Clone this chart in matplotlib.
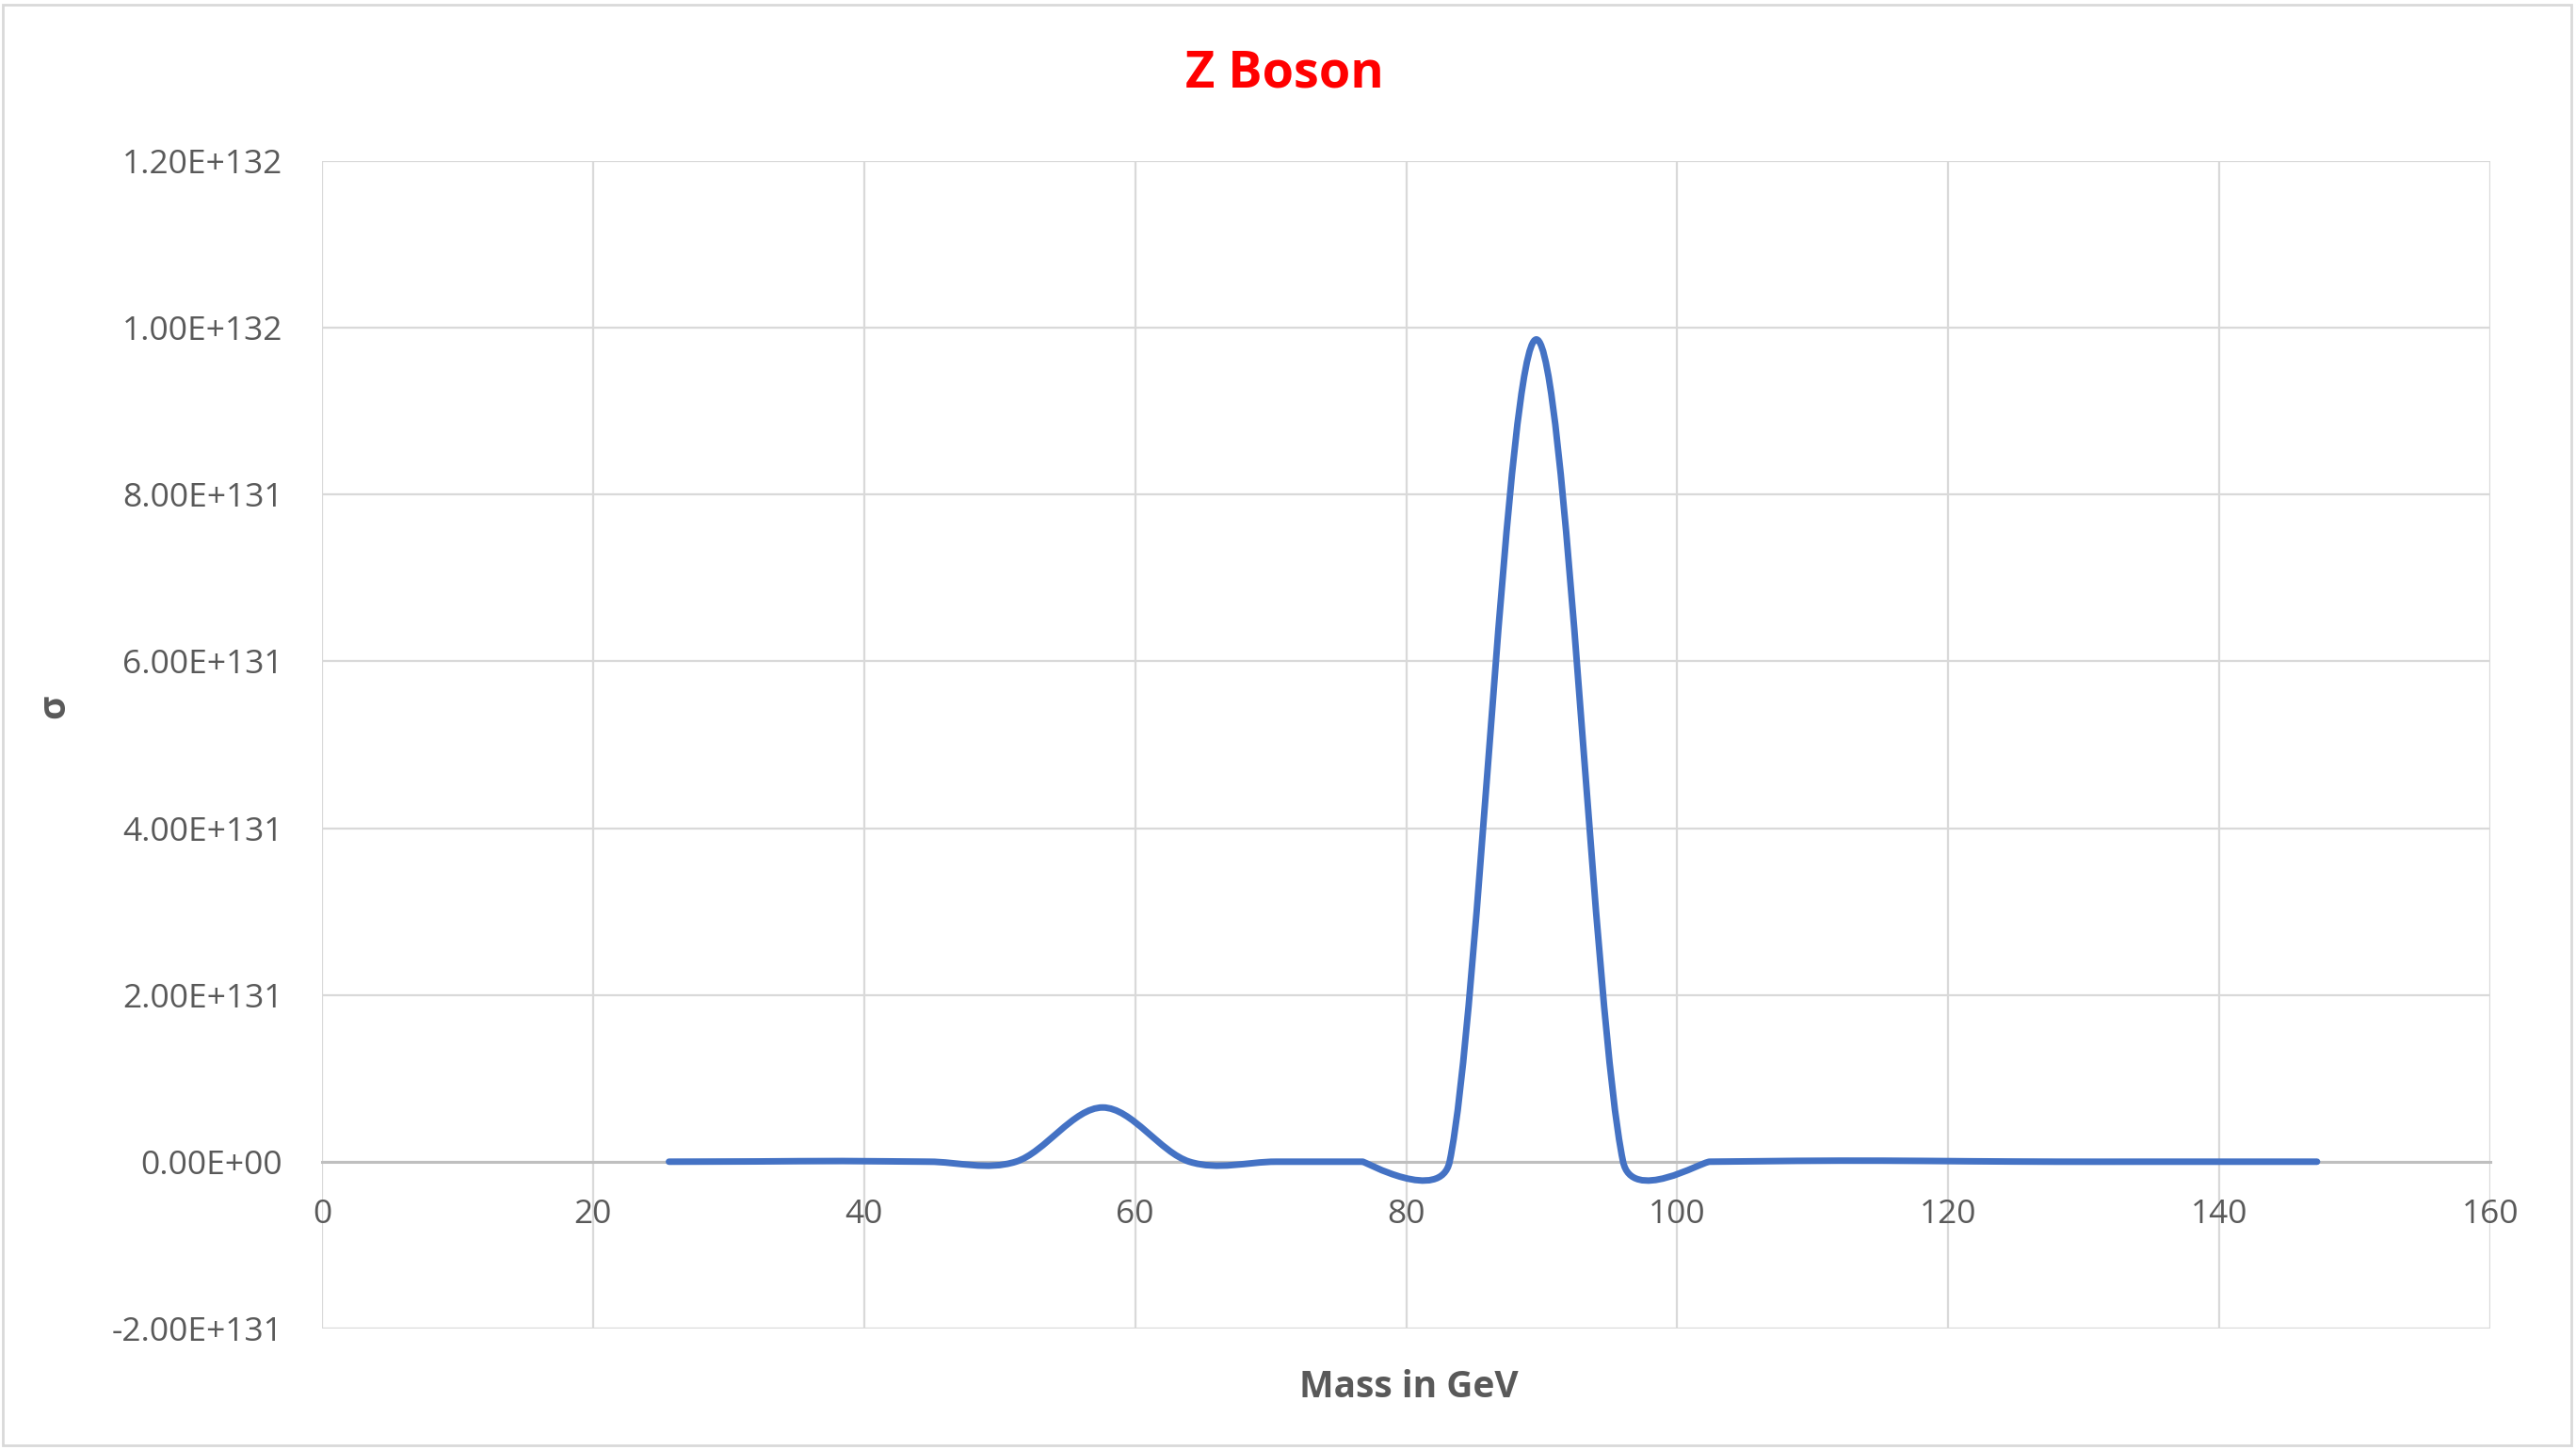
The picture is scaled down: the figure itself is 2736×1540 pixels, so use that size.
import numpy as np
import matplotlib
matplotlib.use('Agg')
import matplotlib.pyplot as plt
from matplotlib.path import Path
from matplotlib.patches import PathPatch, Rectangle
from matplotlib.ticker import FuncFormatter

# data (Excel "smoothed line")
mass = [25.6, 32.0, 38.4, 44.8, 51.2, 57.6, 64.0, 70.4, 76.8, 83.2,
        89.6, 96.0, 102.4, 108.8, 115.2, 121.6, 128.0, 134.4, 140.8, 147.2]
sigma = [0.0, 0.003e131, 0.008e131, 0.0, 0.0, 0.65e131, 0.0, 0.0, 0.0, 0.0,
         9.86e131, 0.0, 0.0, 0.01e131, 0.012e131, 0.005e131, 0.0, 0.0, 0.0, 0.0]

x_ticks = [0, 20, 40, 60, 80, 100, 120, 140, 160]
y_ticks = [-2e131, 0, 2e131, 4e131, 6e131, 8e131, 1e132, 1.2e132]

grey_txt = '#595959'
grid_col = '#d9d9d9'
line_col = '#4472C4'

plt.rcParams['font.family'] = ['Open Sans', 'DejaVu Sans']

fig = plt.figure(figsize=(27.36, 15.40), dpi=100)
ax = fig.add_axes([0.125, 0.0838, 0.8418, 0.8052])
ax.set_xlim(0, 160)
ax.set_ylim(-2e131, 1.2e132)
ax.set_xticks(x_ticks)
ax.set_yticks(y_ticks)
ax.grid(True, color=grid_col, linewidth=1.6)
ax.set_axisbelow(True)
for s in ['top', 'right', 'left']:
    ax.spines[s].set_visible(False)
ax.spines['bottom'].set_position(('data', 0))
ax.spines['bottom'].set_color('#bfbfbf')
ax.spines['bottom'].set_linewidth(2.2)
ax.tick_params(axis='both', length=0, labelsize=25.5, colors=grey_txt)
ax.tick_params(axis='x', pad=28)
ax.tick_params(axis='y', pad=30)
ax.yaxis.set_major_formatter(FuncFormatter(lambda v, p: '{:.2E}'.format(v)))


###############################
# Excel-like smoothing (Bezier, control points in display space)
###############################
pts = ax.transData.transform(np.column_stack([mass, sigma]))
P = np.vstack([pts[0], pts, pts[-1]])
verts = [pts[0]]
codes = [Path.MOVETO]
for i in range(1, len(P) - 2):
    p0, p1, p2, p3 = P[i - 1], P[i], P[i + 1], P[i + 2]
    d02 = np.hypot(*(p2 - p0))
    d12 = np.hypot(*(p2 - p1))
    d13 = np.hypot(*(p3 - p1))
    big0 = d02 / 6 >= d12 / 2
    big3 = d13 / 6 >= d12 / 2
    if not big0 and not big3:
        f1 = f2 = 1 / 6
    elif big0 and big3:
        f1 = d12 / 2 / d02
        f2 = d12 / 2 / d13
    elif big0:
        f1 = d12 / 2 / d02
        f2 = d12 / 2 / d02
    else:
        f1 = d12 / 2 / d13 * (d02 / d13)
        f2 = d12 / 2 / d13
    b1 = p1 + (p2 - p0) * f1
    b2 = p2 - (p3 - p1) * f2
    verts += [b1, b2, p2]
    codes += [Path.CURVE4] * 3

verts = ax.transData.inverted().transform(np.array(verts))
curve = PathPatch(Path(verts, codes), fill=False, edgecolor=line_col,
                  linewidth=5, capstyle='round', joinstyle='round', zorder=3)
ax.add_patch(curve)

fig.text(0.4987, 0.949, 'Z Boson', color='red', fontsize=39, fontweight='bold',
         ha='center', va='center')
fig.text(0.547, 0.043, 'Mass in GeV', color=grey_txt, fontsize=28, fontweight='bold',
         ha='center', va='center')
fig.text(0.021, 0.513, 'σ', color=grey_txt, fontsize=28, fontweight='bold',
         ha='center', va='center', rotation=90)

fig.patches.append(Rectangle((0.001, 0.003), 0.997, 0.994, transform=fig.transFigure,
                             fill=False, edgecolor=grid_col, linewidth=2))

fig.savefig('out.png', dpi=100)
